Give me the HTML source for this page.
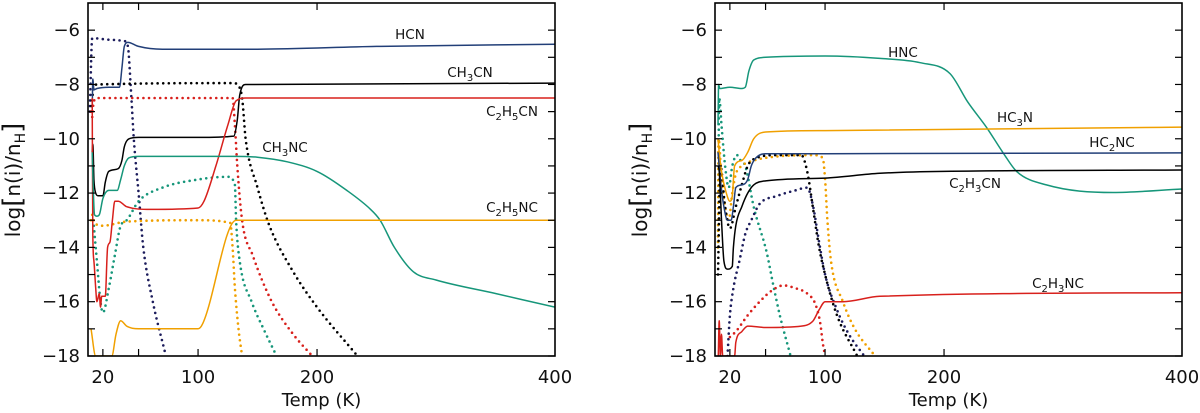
<!DOCTYPE html>
<html><head><meta charset="utf-8"><style>
body{margin:0;background:#fff;width:1200px;height:413px;overflow:hidden}
svg{display:block;font-family:"DejaVu Sans","Liberation Sans",sans-serif}
</style></head><body>
<svg id="chart" width="1200" height="413" viewBox="0 0 1200 413" xmlns="http://www.w3.org/2000/svg"></svg>
<script>
// ---- data (x: Temp K, y: log abundance) ----
const xTicks=[20,50,100,200];
const xTickLabels=[20,100,200,400];
const yTicks=[-6,-8,-10,-12,-14,-16,-18];
// Left panel
const L_HCN_T=[11,11.5,12.5,15,25,34,36,38,41,50,70,150,250,400];
const L_HCN_V=[-9,-7.8,-8.2,-8.15,-8.1,-8.1,-7.4,-6.6,-6.45,-6.6,-6.7,-6.7,-6.6,-6.52];
const L_HCNd_T=[9,11,13,25,38,41,44,46,50,54,62,73];
const L_HCNd_V=[-9,-6.3,-6.3,-6.35,-6.4,-6.6,-8.5,-10,-12,-14,-16,-18];
const L_CH3CN_T=[11,11.5,12.5,14,16,20,22,25,33,36,38,42,50,100,130,133,135,140,400];
const L_CH3CN_V=[-10.5,-10.2,-11.5,-12,-12.1,-12.1,-11.6,-11.2,-11.1,-10.8,-10.3,-10,-9.95,-9.95,-9.9,-9.3,-8.4,-8.0,-7.95];
const L_CH3CNd_T=[10,12,15,130,133,137,140,150,160,180,200,234];
const L_CH3CNd_V=[-9,-8.2,-8.0,-7.95,-8,-8.5,-10,-11.8,-13.2,-14.9,-16.2,-18];
const L_C2H5CN_T=[11,11.5,12.5,14,15,17,18,19,22,24,26,28,30,33,40,60,100,105,115,125,132,140,400];
const L_C2H5CN_V=[-8.5,-13.5,-14.5,-15.5,-16,-15.7,-16.2,-15.8,-15.8,-14,-13.8,-13,-12.3,-12.3,-12.5,-12.6,-12.55,-12.3,-11,-9.5,-8.6,-8.5,-8.5];
const L_C2H5CNd_T=[10,11,12,15,129,131,133,137,146,162,180,196];
const L_C2H5CNd_V=[-9,-9.2,-8.7,-8.5,-8.5,-9.5,-11,-13,-14.3,-16,-17.2,-18];
const L_CH3NC_T=[11,12,13,15,17,20,25,32,35,38,42,50,130,150,175,200,225,245,253,265,281,300,350,400];
const L_CH3NC_V=[-10.5,-12,-12.8,-12.85,-12.8,-12.2,-11.9,-11.9,-11.5,-11,-10.7,-10.65,-10.65,-10.68,-10.85,-11.2,-11.9,-12.6,-13,-14,-14.9,-15.2,-15.7,-16.2];
const L_CH3NCd_T=[12,15,18,20,25,30,35,40,50,70,100,125,131,132,135,145,155,166];
const L_CH3NCd_V=[-13,-14.5,-16,-16.4,-15.5,-14.3,-13.2,-13.0,-12.3,-11.8,-11.5,-11.4,-11.7,-13,-14.5,-16,-17,-18];
const L_C2H5NC_T=[10,14,27.5,31,35,40,50,100,104,132,400];
const L_C2H5NC_V=[-17,-18,-18,-17.2,-16.7,-16.9,-17,-17,-16.8,-13,-13];
const L_C2H5NCd_T=[10,11,13,20,40,100,127,129,131,134,137];
const L_C2H5NCd_V=[-13,-12.8,-13.1,-13.2,-13.05,-13.0,-13.1,-14,-15.5,-17,-18];
// Right panel
const R_HNC_T=[10,10.5,11.5,20,30,33,36,40,50,100,146,180,205,220,236,250,261,286,342,400];
const R_HNC_V=[-9.5,-8,-8.15,-8.1,-8.15,-8.1,-7.5,-7.1,-7.0,-6.95,-7.04,-7.2,-7.6,-8.65,-9.6,-10.54,-11.2,-11.7,-11.98,-11.85];
const R_HC3N_T=[10,11,13,17,20,22,24,30,35,40,50,100,400];
const R_HC3N_V=[-10,-10.5,-11.2,-12,-12.3,-12.1,-11,-10.8,-10.5,-10,-9.75,-9.7,-9.57];
const R_HC2NC_T=[10,12,15,18,21,23,25,30,35,38,42,50,100,400];
const R_HC2NC_V=[-10.5,-11.5,-12.5,-13,-13,-12.5,-11.8,-11.7,-11.5,-11,-10.7,-10.55,-10.55,-10.52];
const R_C2H3CN_T=[10,11,13,15,18,22,23,25,30,35,40,50,100,146,200,400];
const R_C2H3CN_V=[-11,-11.2,-13,-14.5,-14.8,-14.7,-14,-13.2,-12.5,-12,-11.7,-11.55,-11.45,-11.27,-11.2,-11.15];
const R_C2H3NC_T=[10.3,11,12,13,14,24,25,30,35,50,80,90,95,100,115,146,400];
const R_C2H3NC_V=[-18,-16.7,-18,-17.2,-18,-18,-17.5,-17.1,-16.9,-16.95,-16.9,-16.7,-16.3,-16.0,-16,-15.8,-15.67];
const R_HNCd_T=[10,11,13,16,19,22,26,29,33,40,51,57,62,71];
const R_HNCd_V=[-14,-8.5,-9.5,-11,-11.8,-11,-10.6,-10.8,-11,-12.5,-14.2,-15.5,-16.5,-18];
const R_HC3Nd_T=[10,10.5,13,16,19,22,25,30,40,60,90,98,100,102,105,115,125,142];
const R_HC3Nd_V=[-14,-10,-11.5,-12.5,-13,-12,-11.3,-11,-10.8,-10.65,-10.6,-10.7,-11.5,-13,-14.5,-16,-17,-18];
const R_C2H3CNd_T=[10,12,16,20,25,30,35,40,60,80,85,90,95,100,110,127];
const R_C2H3CNd_V=[-15,-11,-12.5,-13.3,-12.5,-11.7,-11,-10.75,-10.6,-10.6,-11.2,-12.6,-14,-15,-16.5,-18];
const R_HC2NCd_T=[18,20,23,28,33,38,45,60,75,85,90,95,100,110,120,133];
const R_HC2NCd_V=[-18,-16.5,-15.5,-14.5,-13.5,-13,-12.4,-12.1,-11.9,-11.8,-12.5,-13.8,-15,-16.3,-17.2,-18];
const R_C2H3NCd_T=[20,25,35,45,55,65,75,85,92,96,98,100];
const R_C2H3NCd_V=[-17.3,-17.1,-16.5,-16,-15.6,-15.4,-15.5,-15.7,-16.1,-16.8,-17.5,-18];

const C={navy:"#223f78",dnavy:"#1c1c5c",black:"#000",red:"#d8201c",green:"#16967a",orange:"#f0a000"};
const NS="http://www.w3.org/2000/svg";
const svg=document.getElementById('chart');
const Y0=3,Y1=356,VMAX=-5,VMIN=-18,TMIN=7.5,TMAX=400;
function mk(tag,attrs,parent){const e=document.createElementNS(NS,tag);for(const k in attrs)e.setAttribute(k,attrs[k]);(parent||svg).appendChild(e);return e;}

function panel(px0,px1,name){
  const g=mk('g',{});
  
  
  const xs=t=>px0+(t-TMIN)/(TMAX-TMIN)*(px1-px0);
  const ys=v=>Y0+(VMAX-v)/(VMAX-VMIN)*(Y1-Y0);
  const clip='clip-'+name;
  const cp=mk('clipPath',{id:clip},g);mk('rect',{x:px0,y:Y0,width:px1-px0,height:Y1-Y0},cp);
  const plot=mk('g',{'clip-path':'url(#'+clip+')'},g);
  for(let v=-6;v>=-18;v--){
    const y=ys(v);
    const t1=mk('line',{x1:px0,x2:px0+7,y1:y,y2:y,stroke:'#000','stroke-width':1.2},g);
    
    
    const t2=mk('line',{x1:px1-7,x2:px1,y1:y,y2:y,stroke:'#000','stroke-width':1.2},g);
    
    
  }
  yTicks.forEach(v=>{
    const t=mk('text',{x:px0-8,y:ys(v)+6,'text-anchor':'end','font-size':18,fill:'#111'},g);
    
    
    t.textContent='\u2212'+Math.abs(v);
  });
  xTicks.forEach(tv=>{
    const x=xs(tv);
    const a=mk('line',{x1:x,x2:x,y1:Y1,y2:Y1-7,stroke:'#000','stroke-width':1.2},g);
    
    
    const b=mk('line',{x1:x,x2:x,y1:Y0,y2:Y0+7,stroke:'#000','stroke-width':1.2},g);
    
    
  });
  xTickLabels.forEach(tv=>{
    const t=mk('text',{x:xs(tv),y:383,'text-anchor':'middle','font-size':18,fill:'#111'},g);
    
    
    t.textContent=tv;
  });
  const xt=mk('text',{x:(px0+px1)/2,y:406,'text-anchor':'middle','font-size':18,fill:'#111'},g);
  
  
  xt.textContent='Temp (K)';
  const yt=mk('text',{x:0,y:0,'text-anchor':'middle','font-size':20,fill:'#111',transform:`translate(${px0-68},180) rotate(-90)`},g);
  
  
  yt.innerHTML='log<tspan font-size="26" dy="1">[</tspan><tspan dy="-1">n(i)/n</tspan><tspan font-size="14" dy="5">H</tspan><tspan font-size="26" dy="-4">]</tspan>';
  return {g,plot,xs,ys,frame:()=>{const f=mk('rect',{x:px0,y:Y0,width:px1-px0,height:Y1-Y0,fill:'none',stroke:'#000','stroke-width':1.6},g);}};
}
// monotone cubic (Fritsch-Carlson) path through pixel points
function monoPath(X,Y){
  const n=X.length;if(n<3)return 'M'+X.map((x,i)=>x+','+Y[i]).join('L');
  const d=[],m=new Array(n);
  for(let i=0;i<n-1;i++){const dx=X[i+1]-X[i];d.push(dx<=0?0:(Y[i+1]-Y[i])/dx);}
  m[0]=d[0];m[n-1]=d[n-2];
  for(let i=1;i<n-1;i++){m[i]=(d[i-1]*d[i]<=0)?0:(d[i-1]+d[i])/2;}
  for(let i=0;i<n-1;i++){if(d[i]===0){m[i]=0;m[i+1]=0;continue;}const a=m[i]/d[i],b=m[i+1]/d[i],s=a*a+b*b;if(s>9){const t=3/Math.sqrt(s);m[i]=t*a*d[i];m[i+1]=t*b*d[i];}}
  let p='M'+X[0].toFixed(1)+','+Y[0].toFixed(1);
  for(let i=0;i<n-1;i++){const h=(X[i+1]-X[i])/3;
    p+=`C${(X[i]+h).toFixed(1)},${(Y[i]+m[i]*h).toFixed(1)} ${(X[i+1]-h).toFixed(1)},${(Y[i+1]-m[i+1]*h).toFixed(1)} ${X[i+1].toFixed(1)},${Y[i+1].toFixed(1)}`;}
  return p;
}
function series(P,T,V,color,dotted,name){
  const X=T.map(t=>P.xs(t)),Y=V.map(v=>P.ys(v));
  const attrs={d:monoPath(X,Y),fill:'none',stroke:color,'stroke-width':dotted?2.6:1.5,'stroke-linejoin':'round'};
  if(dotted){attrs['stroke-dasharray']='0 5.6';attrs['stroke-linecap']='round';}
  const p=mk('path',attrs,P.plot);
  
  
}
function label(P,x,y,html,name){
  const t=mk('text',{x:x,y:y,'text-anchor':'middle','font-size':13.5,fill:'#111'},P.g);
  
  
  t.innerHTML=html;
}
const s=n=>`<tspan font-size="10" dy="4">${n}</tspan><tspan dy="-4">`;
const L=panel(88,555,'left-panel');
series(L,L_HCNd_T,L_HCNd_V,C.dnavy,true,'hcn-ice');
series(L,L_CH3CNd_T,L_CH3CNd_V,C.black,true,'ch3cn-ice');
series(L,L_C2H5CNd_T,L_C2H5CNd_V,C.red,true,'c2h5cn-ice');
series(L,L_CH3NCd_T,L_CH3NCd_V,C.green,true,'ch3nc-ice');
series(L,L_C2H5NCd_T,L_C2H5NCd_V,C.orange,true,'c2h5nc-ice');
series(L,L_HCN_T,L_HCN_V,C.navy,false,'hcn-gas');
series(L,L_CH3CN_T,L_CH3CN_V,C.black,false,'ch3cn-gas');
series(L,L_C2H5CN_T,L_C2H5CN_V,C.red,false,'c2h5cn-gas');
series(L,L_CH3NC_T,L_CH3NC_V,C.green,false,'ch3nc-gas');
series(L,L_C2H5NC_T,L_C2H5NC_V,C.orange,false,'c2h5nc-gas');
L.frame();
label(L,410,39,'HCN','label-hcn');
label(L,470,77,'CH'+s(3)+'CN</tspan>','label-ch3cn');
label(L,512,116,'C'+s(2)+'H</tspan>'+s(5)+'CN</tspan>','label-c2h5cn');
label(L,285,152,'CH'+s(3)+'NC</tspan>','label-ch3nc');
label(L,512,212,'C'+s(2)+'H</tspan>'+s(5)+'NC</tspan>','label-c2h5nc');

const R=panel(715,1182,'right-panel');
series(R,R_HNCd_T,R_HNCd_V,C.green,true,'hnc-ice');
series(R,R_HC3Nd_T,R_HC3Nd_V,C.orange,true,'hc3n-ice');
series(R,R_C2H3CNd_T,R_C2H3CNd_V,C.black,true,'c2h3cn-ice');
series(R,R_HC2NCd_T,R_HC2NCd_V,C.dnavy,true,'hc2nc-ice');
series(R,R_C2H3NCd_T,R_C2H3NCd_V,C.red,true,'c2h3nc-ice');
series(R,R_HNC_T,R_HNC_V,C.green,false,'hnc-gas');
series(R,R_HC3N_T,R_HC3N_V,C.orange,false,'hc3n-gas');
series(R,R_HC2NC_T,R_HC2NC_V,C.navy,false,'hc2nc-gas');
series(R,R_C2H3CN_T,R_C2H3CN_V,C.black,false,'c2h3cn-gas');
series(R,R_C2H3NC_T,R_C2H3NC_V,C.red,false,'c2h3nc-gas');
R.frame();
label(R,903,57,'HNC','label-hnc');
label(R,1015,122,'HC'+s(3)+'N</tspan>','label-hc3n');
label(R,1112,147,'HC'+s(2)+'NC</tspan>','label-hc2nc');
label(R,975,188,'C'+s(2)+'H</tspan>'+s(3)+'CN</tspan>','label-c2h3cn');
label(R,1058,288,'C'+s(2)+'H</tspan>'+s(3)+'NC</tspan>','label-c2h3nc');
</script>
</body></html>
